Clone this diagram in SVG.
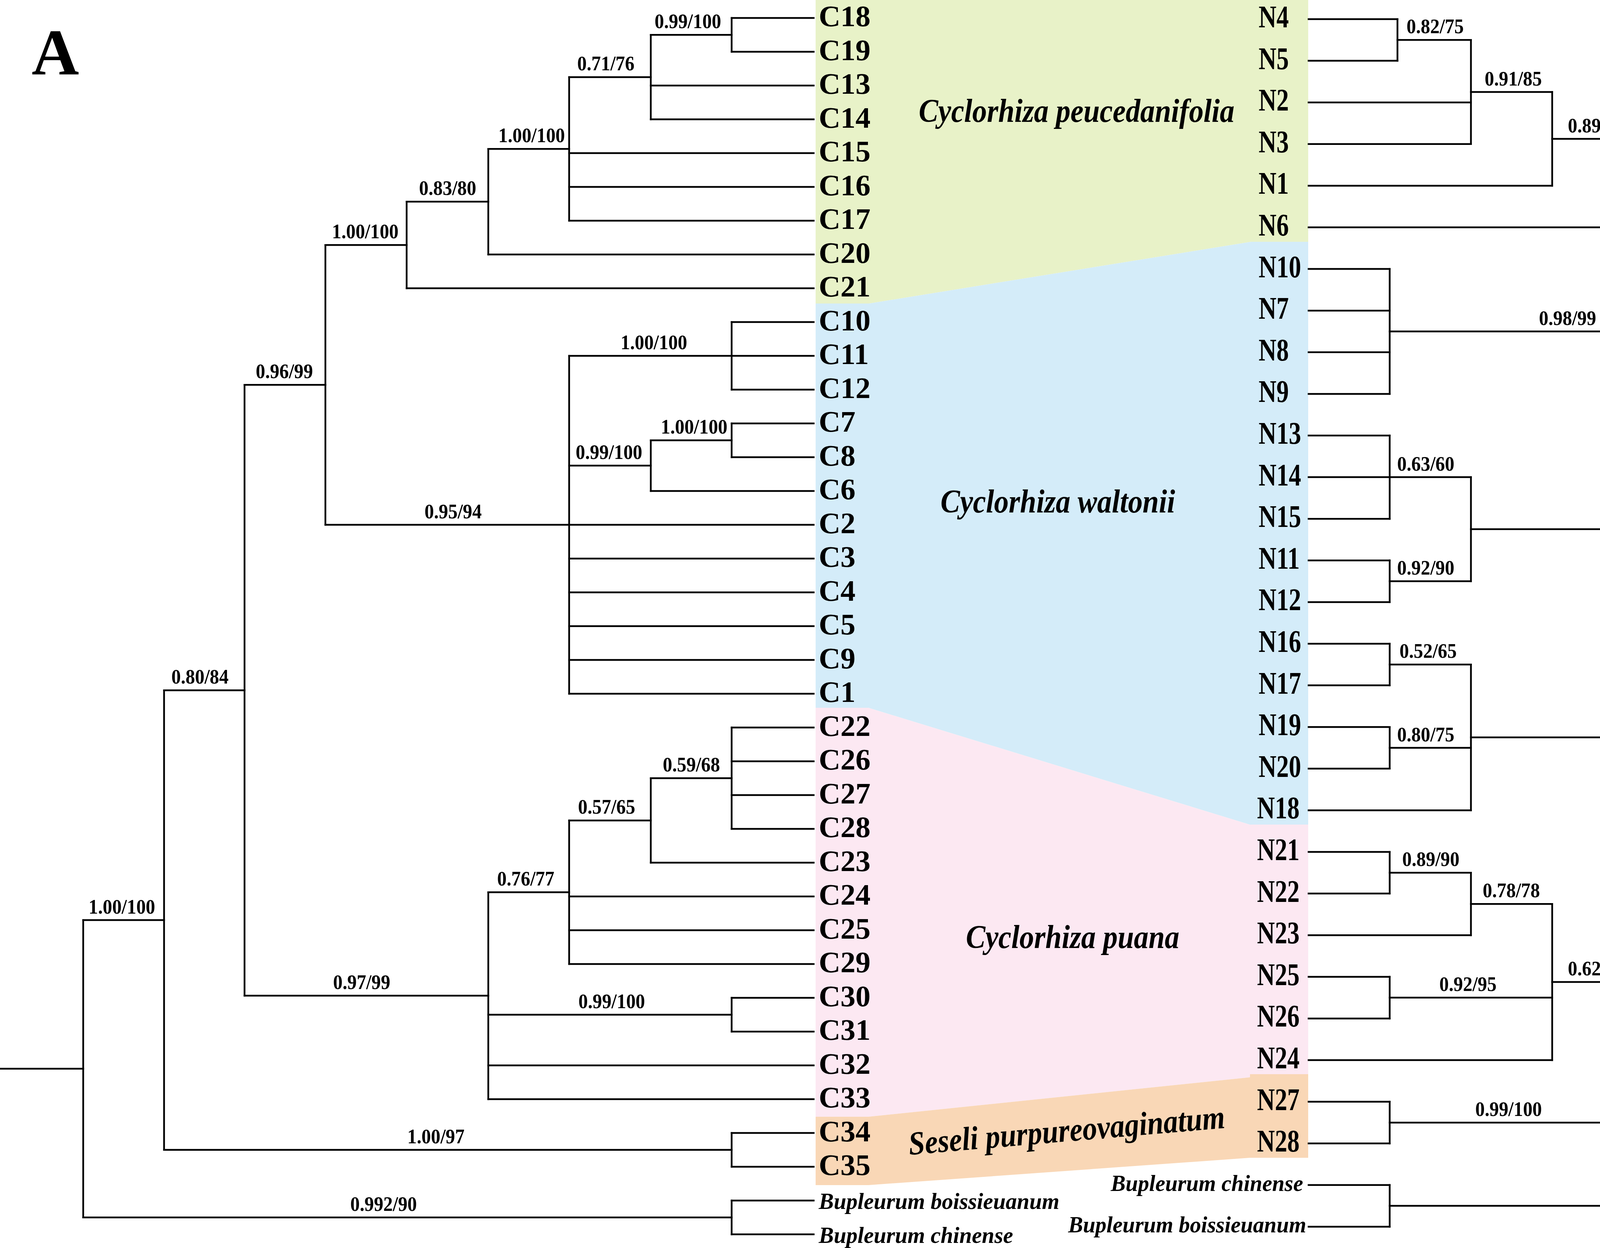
<svg xmlns="http://www.w3.org/2000/svg" width="5434" height="3195" viewBox="0 0 5434 3195">
<style>
text{font-family:"Liberation Serif","Times New Roman",serif;font-weight:bold;fill:#000}
.br{fill:none;stroke:#000;stroke-width:4.5;stroke-linecap:square}
.c{font-size:77px}
.n{font-size:80px}
.s{font-size:52px;text-anchor:middle}
.sp{font-size:85px;font-style:italic;text-anchor:middle}
.bu{font-size:60px;font-style:italic}
.big{font-size:168px}
</style>
<rect width="5434" height="3195" fill="#fff"/>
<g id="clade-bands">
<polygon fill="#E8F2C8" points="2088,0 3349,0 3349,619 3203,619 2225,777 2088,777"/>
<polygon fill="#D4ECF9" points="2088,777 2225,777 3203,619 3349,619 3349,2111 3199,2111 2223,1812 2088,1812"/>
<polygon fill="#FCE8F2" points="2088,1812 2223,1812 3199,2111 3349,2111 3349,2750 3200,2750 3200,2758 2223,2859 2088,2859"/>
<polygon fill="#F9D7B6" points="2088,2859 2223,2859 3200,2758 3200,2750 3349,2750 3349,2964 3200,2964 2223,3034 2088,3034"/>
</g>
<g id="connectors">
<path class="br" d="M1873 46H2083M1873 132.5H2083M1666 89.25H1873M1666 219H2083M1666 305.5H2083M1457 197.4H1666M1457 392H2083M1457 478.5H2083M1457 565H2083M1250 381.2H1457M1250 651.5H2083M1041 516.3H1250M1041 738H2083M1873 824.5H2083M1873 911H2083M1873 997.5H2083M1873 1084H2083M1873 1170.5H2083M1666 1127.25H1873M1666 1257H2083M1457 911H1873M1457 1192.1H1666M1457 1343.5H2083M1457 1430H2083M1457 1516.5H2083M1457 1603H2083M1457 1689.5H2083M1457 1776H2083M833 627.2H1041M833 1343.5H1457M1873 1862.5H2083M1873 1949H2083M1873 2035.5H2083M1873 2122H2083M1666 1992.25H1873M1666 2208.5H2083M1457 2100.4H1666M1457 2295H2083M1457 2381.5H2083M1457 2468H2083M1873 2554.5H2083M1873 2641H2083M1250 2284.2H1457M1250 2597.75H1873M1250 2727.5H2083M1250 2814H2083M626 985.3H833M626 2549.1H1250M1873 2900.5H2083M1873 2987H2083M420 1767.2H626M420 2943.75H1873M1873 3073.5H2083M1873 3160H2083M213 2355.5H420M213 3116.75H1873M2 2736.1H213"/>
<path class="br" d="M1873 46V132.5M1666 89.25V305.5M1457 197.4V565M1250 381.2V651.5M1041 516.3V738M1873 824.5V997.5M1873 1084V1170.5M1666 1127.25V1257M1457 911V1776M833 627.2V1343.5M1873 1862.5V2122M1666 1992.25V2208.5M1457 2100.4V2468M1873 2554.5V2641M1250 2284.2V2814M626 985.3V2549.1M1873 2900.5V2987M420 1767.2V2943.75M1873 3073.5V3160M213 2355.5V3116.75"/>
<path class="br" d="M3350 49H3577.5M3350 155.6H3577.5M3577.5 102.3H3765.6M3350 262.2H3765.6M3350 368.8H3765.6M3765.6 235.55H3973.6M3350 475.4H3973.6M3973.6 355.5H4181.6M3350 582H4181.6M3350 688.6H3557.6M3350 795.2H3557.6M3350 901.8H3557.6M3350 1008.4H3557.6M4181.6 468.75H4389.6M3557.6 848.5H4389.6M3350 1115H3557.6M3350 1221.6H3557.6M3350 1328.2H3557.6M3350 1434.8H3557.6M3350 1541.4H3557.6M3557.6 1221.6H3765.6M3557.6 1488.1H3765.6M4389.6 658.6H4610.4M3765.6 1354.85H4610.4M3350 1648H3557.6M3350 1754.6H3557.6M3350 1861.2H3557.6M3350 1967.8H3557.6M3557.6 1701.3H3765.6M3557.6 1914.5H3765.6M3350 2074.4H3765.6M4610.4 1006.7H4805.6M3765.6 1887.85H4805.6M3350 2181H3557.6M3350 2287.6H3557.6M3557.6 2234.3H3765.6M3350 2394.2H3765.6M3350 2500.8H3557.6M3350 2607.4H3557.6M3765.6 2314.25H3973.6M3557.6 2554.1H3973.6M3350 2714H3973.6M3350 2820.6H3557.6M3350 2927.2H3557.6M3973.6 2514.1H4181.6M3557.6 2873.9H4181.6M4805.6 1447.3H5012.2M4181.6 2694H5012.2M3350 3033.8H3557.6M3350 3140.4H3557.6M5012.2 2070.65H5220.2M3557.6 3087.1H5220.2M5220.2 2578.9H5392"/>
<path class="br" d="M3577.5 49V155.6M3765.6 102.3V368.8M3973.6 235.55V475.4M4181.6 355.5V582M3557.6 688.6V1008.4M4389.6 468.75V848.5M3557.6 1115V1328.2M3557.6 1434.8V1541.4M3765.6 1221.6V1488.1M4610.4 658.6V1354.85M3557.6 1648V1754.6M3557.6 1861.2V1967.8M3765.6 1701.3V2074.4M4805.6 1006.7V1887.85M3557.6 2181V2287.6M3765.6 2234.3V2394.2M3557.6 2500.8V2607.4M3973.6 2314.25V2714M3557.6 2820.6V2927.2M4181.6 2514.1V2873.9M5012.2 1447.3V2694M3557.6 3033.8V3140.4M5220.2 2070.65V3087.1"/>
</g>
<g id="panel-labels">
<text class="big" x="81" y="191">A</text>
<text class="big" x="5177" y="191">B</text>
</g>
<g id="clade-labels">
<text class="sp" transform="translate(2756,312) scale(0.88,1)">Cyclorhiza peucedanifolia</text>
<text class="sp" transform="translate(2708,1312) scale(0.88,1)">Cyclorhiza waltonii</text>
<text class="sp" transform="translate(2746,2427) scale(0.88,1)">Cyclorhiza puana</text>
<text class="sp" transform="translate(2733,2922) rotate(-4.86) scale(0.88,1)">Seseli purpureovaginatum</text>
</g>
<g id="left-leaves">
<g id="C18"><text class="c" x="2096" y="67">C18</text></g>
<g id="C19"><text class="c" x="2096" y="153.5">C19</text></g>
<g id="C13"><text class="c" x="2096" y="240">C13</text></g>
<g id="C14"><text class="c" x="2096" y="326.5">C14</text></g>
<g id="C15"><text class="c" x="2096" y="413">C15</text></g>
<g id="C16"><text class="c" x="2096" y="499.5">C16</text></g>
<g id="C17"><text class="c" x="2096" y="586">C17</text></g>
<g id="C20"><text class="c" x="2096" y="672.5">C20</text></g>
<g id="C21"><text class="c" x="2096" y="759">C21</text></g>
<g id="C10"><text class="c" x="2096" y="845.5">C10</text></g>
<g id="C11"><text class="c" x="2096" y="932">C11</text></g>
<g id="C12"><text class="c" x="2096" y="1018.5">C12</text></g>
<g id="C7"><text class="c" x="2096" y="1105">C7</text></g>
<g id="C8"><text class="c" x="2096" y="1191.5">C8</text></g>
<g id="C6"><text class="c" x="2096" y="1278">C6</text></g>
<g id="C2"><text class="c" x="2096" y="1364.5">C2</text></g>
<g id="C3"><text class="c" x="2096" y="1451">C3</text></g>
<g id="C4"><text class="c" x="2096" y="1537.5">C4</text></g>
<g id="C5"><text class="c" x="2096" y="1624">C5</text></g>
<g id="C9"><text class="c" x="2096" y="1710.5">C9</text></g>
<g id="C1"><text class="c" x="2096" y="1797">C1</text></g>
<g id="C22"><text class="c" x="2096" y="1883.5">C22</text></g>
<g id="C26"><text class="c" x="2096" y="1970">C26</text></g>
<g id="C27"><text class="c" x="2096" y="2056.5">C27</text></g>
<g id="C28"><text class="c" x="2096" y="2143">C28</text></g>
<g id="C23"><text class="c" x="2096" y="2229.5">C23</text></g>
<g id="C24"><text class="c" x="2096" y="2316">C24</text></g>
<g id="C25"><text class="c" x="2096" y="2402.5">C25</text></g>
<g id="C29"><text class="c" x="2096" y="2489">C29</text></g>
<g id="C30"><text class="c" x="2096" y="2575.5">C30</text></g>
<g id="C31"><text class="c" x="2096" y="2662">C31</text></g>
<g id="C32"><text class="c" x="2096" y="2748.5">C32</text></g>
<g id="C33"><text class="c" x="2096" y="2835">C33</text></g>
<g id="C34"><text class="c" x="2096" y="2921.5">C34</text></g>
<g id="C35"><text class="c" x="2096" y="3008">C35</text></g>
<g id="L-Bupleurum-boissieuanum"><text class="bu" transform="translate(2096,3095) scale(0.96,1)">Bupleurum boissieuanum</text></g>
<g id="L-Bupleurum-chinense"><text class="bu" transform="translate(2096,3181.5) scale(0.96,1)">Bupleurum chinense</text></g>
</g>
<g id="right-leaves" transform="translate(3222,0) scale(0.79,1)">
<g id="N4"><text class="n" y="70">N4</text></g>
<g id="N5"><text class="n" y="176.6">N5</text></g>
<g id="N2"><text class="n" y="283.2">N2</text></g>
<g id="N3"><text class="n" y="389.8">N3</text></g>
<g id="N1"><text class="n" y="496.4">N1</text></g>
<g id="N6"><text class="n" y="603">N6</text></g>
<g id="N10"><text class="n" y="709.6">N10</text></g>
<g id="N7"><text class="n" y="816.2">N7</text></g>
<g id="N8"><text class="n" y="922.8">N8</text></g>
<g id="N9"><text class="n" y="1029.4">N9</text></g>
<g id="N13"><text class="n" y="1136">N13</text></g>
<g id="N14"><text class="n" y="1242.6">N14</text></g>
<g id="N15"><text class="n" y="1349.2">N15</text></g>
<g id="N11"><text class="n" y="1455.8">N11</text></g>
<g id="N12"><text class="n" y="1562.4">N12</text></g>
<g id="N16"><text class="n" y="1669">N16</text></g>
<g id="N17"><text class="n" y="1775.6">N17</text></g>
<g id="N19"><text class="n" y="1882.2">N19</text></g>
<g id="N20"><text class="n" y="1988.8">N20</text></g>
<g id="N18"><text class="n" x="-5" y="2095.4">N18</text></g>
<g id="N21"><text class="n" x="-5" y="2202">N21</text></g>
<g id="N22"><text class="n" x="-5" y="2308.6">N22</text></g>
<g id="N23"><text class="n" x="-5" y="2415.2">N23</text></g>
<g id="N25"><text class="n" x="-5" y="2521.8">N25</text></g>
<g id="N26"><text class="n" x="-5" y="2628.4">N26</text></g>
<g id="N24"><text class="n" x="-5" y="2735">N24</text></g>
<g id="N27"><text class="n" x="-5" y="2841.6">N27</text></g>
<g id="N28"><text class="n" x="-5" y="2948.2">N28</text></g>
</g>
<g id="right-outgroup">
<g id="R-Bupleurum-chinense"><text class="bu" text-anchor="end" transform="translate(3336,3049) scale(0.95,1)">Bupleurum chinense</text></g>
<g id="R-Bupleurum-boissieuanum"><text class="bu" text-anchor="end" transform="translate(3344,3155) scale(0.95,1)">Bupleurum boissieuanum</text></g>
</g>
<g id="support-labels">
<text class="s" transform="translate(1761,72) scale(0.93,1)">0.99/100</text>
<text class="s" transform="translate(1551,180) scale(0.93,1)">0.71/76</text>
<text class="s" transform="translate(1361,364) scale(0.93,1)">1.00/100</text>
<text class="s" transform="translate(1146,499) scale(0.93,1)">0.83/80</text>
<text class="s" transform="translate(935,610) scale(0.93,1)">1.00/100</text>
<text class="s" transform="translate(728,968) scale(0.93,1)">0.96/99</text>
<text class="s" transform="translate(512,1750) scale(0.93,1)">0.80/84</text>
<text class="s" transform="translate(312,2338.5) scale(0.93,1)">1.00/100</text>
<text class="s" transform="translate(1674,894) scale(0.93,1)">1.00/100</text>
<text class="s" transform="translate(1777,1110) scale(0.93,1)">1.00/100</text>
<text class="s" transform="translate(1559,1175) scale(0.93,1)">0.99/100</text>
<text class="s" transform="translate(1160,1326.5) scale(0.93,1)">0.95/94</text>
<text class="s" transform="translate(1770,1975) scale(0.93,1)">0.59/68</text>
<text class="s" transform="translate(1553,2083.4) scale(0.93,1)">0.57/65</text>
<text class="s" transform="translate(1346,2267) scale(0.93,1)">0.76/77</text>
<text class="s" transform="translate(1566,2580.75) scale(0.93,1)">0.99/100</text>
<text class="s" transform="translate(926,2532) scale(0.93,1)">0.97/99</text>
<text class="s" transform="translate(1116,2926.75) scale(0.93,1)">1.00/97</text>
<text class="s" transform="translate(982,3099.75) scale(0.93,1)">0.992/90</text>
<text class="s" transform="translate(3674,85) scale(0.93,1)">0.82/75</text>
<text class="s" transform="translate(3874,218.5) scale(0.93,1)">0.91/85</text>
<text class="s" transform="translate(4087,338.5) scale(0.93,1)">0.89/87</text>
<text class="s" transform="translate(4288,451.75) scale(0.93,1)">0.96/96</text>
<text class="s" transform="translate(4013,831.5) scale(0.93,1)">0.98/99</text>
<text class="s" transform="translate(4486,641.6) scale(0.93,1)">0.65/65</text>
<text class="s" transform="translate(4714,989.7) scale(0.93,1)">0.70/77</text>
<text class="s" transform="translate(3650,1204.6) scale(0.93,1)">0.63/60</text>
<text class="s" transform="translate(3650,1471) scale(0.93,1)">0.92/90</text>
<text class="s" transform="translate(4217,1337.85) scale(0.93,1)">90/0.854</text>
<text class="s" transform="translate(3656,1684.3) scale(0.93,1)">0.52/65</text>
<text class="s" transform="translate(3650,1897.5) scale(0.93,1)">0.80/75</text>
<text class="s" transform="translate(4294,1870.85) scale(0.93,1)">0.58/66</text>
<text class="s" transform="translate(4912,1430.3) scale(0.93,1)">0.98/100</text>
<text class="s" transform="translate(3663,2217.3) scale(0.93,1)">0.89/90</text>
<text class="s" transform="translate(3869,2297.25) scale(0.93,1)">0.78/78</text>
<text class="s" transform="translate(3758,2537.1) scale(0.93,1)">0.92/95</text>
<text class="s" transform="translate(4087,2497.1) scale(0.93,1)">0.62/74</text>
<text class="s" transform="translate(3862,2856.9) scale(0.93,1)">0.99/100</text>
<text class="s" transform="translate(4641,2677) scale(0.93,1)">1.00/100</text>
<text class="s" transform="translate(5127,2053.65) scale(0.93,1)">1.00/100</text>
<text class="s" transform="translate(4322,3070.1) scale(0.93,1)">0.59/65</text>
</g>
</svg>
